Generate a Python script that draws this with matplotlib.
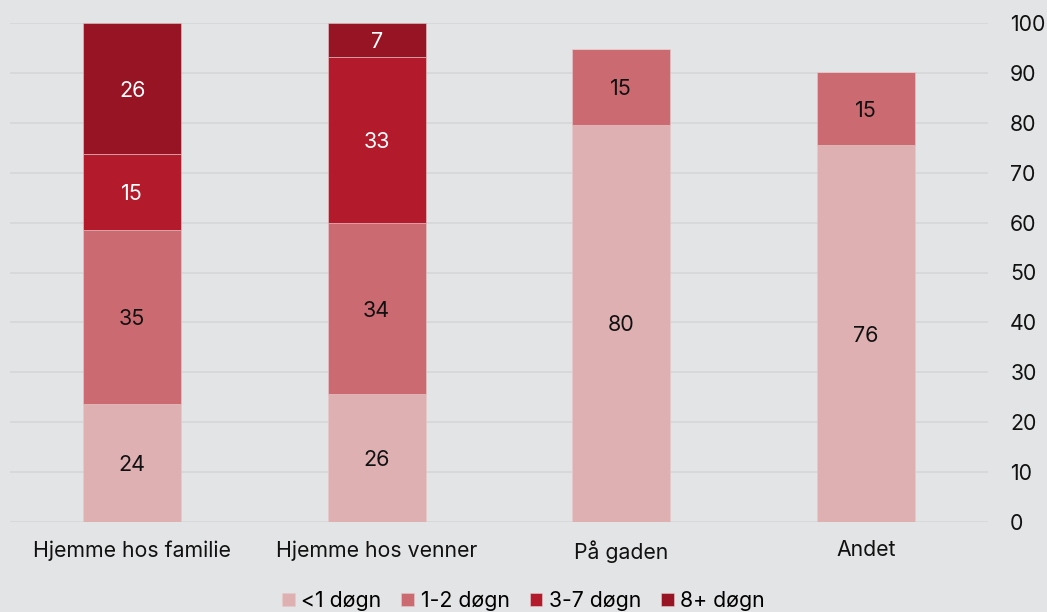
import matplotlib.pyplot as plt
import numpy as np

categories = ['Hjemme hos familie', 'Hjemme hos venner', 'På gaden', 'Andet']
series = ['<1 døgn', '1-2 døgn', '3-7 døgn', '8+ døgn']
values = {
    '<1 døgn': [23.6, 25.6, 79.6, 75.5],
    '1-2 døgn': [34.9, 34.3, 15.2, 14.6],
    '3-7 døgn': [15.2, 33.3, 0, 0],
    '8+ døgn': [26.3, 6.8, 0, 0],
}
colors = ['#dfb0b2', '#cb6b71', '#b31b2c', '#961424']
text_colors = ['#111111', '#111111', 'white', 'white']

plt.rcParams['font.family'] = ['Inter', 'DejaVu Sans']
bg = '#e3e4e6'

fig = plt.figure(figsize=(10.47, 6.12), dpi=100, facecolor=bg)
ax = fig.add_axes([10 / 1047, 90 / 612, 978 / 1047, 499 / 612], facecolor=bg)

x = np.arange(len(categories))
bottom = np.zeros(len(categories))
for name, col, tcol in zip(series, colors, text_colors):
    vals = np.array(values[name])
    ax.bar(x, vals, width=0.4, bottom=bottom, color=col, label=name,
           edgecolor='#e8c9cb', linewidth=0.4, zorder=3)
    for xi, v, b in zip(x, vals, bottom):
        if v > 0:
            ax.text(xi, b + v / 2, f'{v:.0f}', ha='center', va='center_baseline',
                    color=tcol, fontsize=15.5, zorder=4)
    bottom += vals

ax.set_xlim(-0.5, 3.5)
ax.set_ylim(0, 100)
ax.set_yticks(range(0, 101, 10))
ax.yaxis.tick_right()
ax.grid(axis='y', color='#d6d7d9', linewidth=1.3, zorder=0)
ax.set_xticks(x)
ax.set_xticklabels(categories)
ax.tick_params(axis='both', length=0, labelsize=15.3, labelcolor='#111111')
ax.tick_params(axis='x', pad=13)
ax.tick_params(axis='y', pad=16)
for s in ax.spines.values():
    s.set_visible(False)

fig.legend(loc='lower center', bbox_to_anchor=(0.5, -0.03), ncol=4, frameon=False,
           fontsize=15.3, handlelength=0.6, handleheight=0.6, handletextpad=0.3,
           columnspacing=0.95)

fig.savefig('out.png', dpi=100, facecolor=bg)
